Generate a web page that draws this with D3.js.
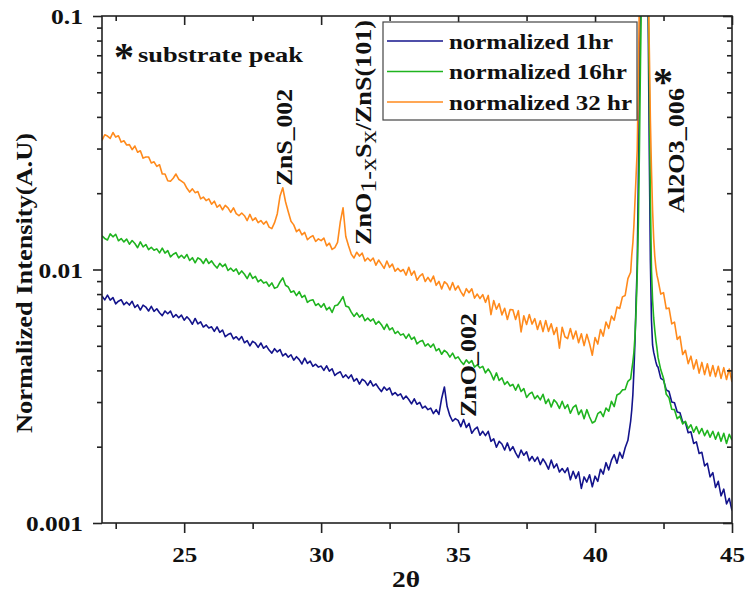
<!DOCTYPE html>
<html>
<head>
<meta charset="utf-8">
<script src="https://cdn.jsdelivr.net/npm/d3@7"></script>
<style>
  html, body { margin: 0; padding: 0; background: #fff; }
  svg { display: block; }
</style>
</head>
<body>
<svg id="chart" width="746" height="592"></svg>
<script>
// ---- data -------------------------------------------------------------
// 2θ scan grid: 0.1° steps, with 0.04° steps across the sapphire (006) reflection
const theta = [
  ...d3.range(0, 194).map(i => +(22 + i * 0.1).toFixed(2)),
  ...d3.range(0, 24).map(i => +(41.34 + i * 0.04).toFixed(2)),
  ...d3.range(0, 28).map(i => +(42.3 + i * 0.1).toFixed(2))
];

const intensity1hr = [
  0.00787, 0.00759, 0.00792, 0.00757, 0.00775, 0.00732, 0.00750, 0.00760, 0.00726, 0.00743,
  0.00724, 0.00749, 0.00708, 0.00725, 0.00692, 0.00723, 0.00711, 0.00686, 0.00716, 0.00684,
  0.00700, 0.00675, 0.00658, 0.00686, 0.00669, 0.00685, 0.00648, 0.00664, 0.00645, 0.00661,
  0.00631, 0.00651, 0.00633, 0.00608, 0.00641, 0.00610, 0.00622, 0.00593, 0.00605, 0.00588,
  0.00594, 0.00570, 0.00594, 0.00565, 0.00577, 0.00543, 0.00554, 0.00560, 0.00532, 0.00543,
  0.00527, 0.00544, 0.00514, 0.00524, 0.00500, 0.00521, 0.00512, 0.00493, 0.00513, 0.00489,
  0.00500, 0.00481, 0.00468, 0.00487, 0.00473, 0.00483, 0.00456, 0.00466, 0.00451, 0.00461,
  0.00439, 0.00453, 0.00441, 0.00424, 0.00447, 0.00426, 0.00435, 0.00415, 0.00423, 0.00412,
  0.00416, 0.00400, 0.00417, 0.00397, 0.00406, 0.00382, 0.00390, 0.00395, 0.00375, 0.00384,
  0.00372, 0.00384, 0.00363, 0.00371, 0.00353, 0.00369, 0.00363, 0.00349, 0.00364, 0.00347,
  0.00354, 0.00341, 0.00330, 0.00344, 0.00334, 0.00341, 0.00320, 0.00327, 0.00318, 0.00323,
  0.00308, 0.00317, 0.00307, 0.00295, 0.00309, 0.00294, 0.00299, 0.00284, 0.00289, 0.00280,
  0.00284, 0.00270, 0.00280, 0.00268, 0.00310, 0.00344, 0.00288, 0.00265, 0.00252, 0.00258,
  0.00254, 0.00240, 0.00256, 0.00238, 0.00247, 0.00226, 0.00234, 0.00239, 0.00222, 0.00230,
  0.00221, 0.00230, 0.00210, 0.00215, 0.00199, 0.00210, 0.00205, 0.00194, 0.00207, 0.00193,
  0.00200, 0.00189, 0.00181, 0.00194, 0.00185, 0.00191, 0.00176, 0.00183, 0.00175, 0.00182,
  0.00170, 0.00179, 0.00172, 0.00163, 0.00177, 0.00165, 0.00171, 0.00159, 0.00164, 0.00158,
  0.00165, 0.00148, 0.00160, 0.00150, 0.00159, 0.00137, 0.00152, 0.00145, 0.00155, 0.00139,
  0.00153, 0.00146, 0.00163, 0.00156, 0.00173, 0.00162, 0.00177, 0.00186, 0.00172, 0.00190,
  0.00180, 0.00198, 0.00212, 0.00252,
  0.00279, 0.00320, 0.00401, 0.00527, 0.00758, 0.0104, 0.0225, 0.056, 0.14, 0.30, 0.60, 0.90,
  0.85, 0.50, 0.22, 0.095, 0.0296, 0.0109, 0.00632, 0.00504, 0.00472, 0.00452, 0.00432, 0.00417,
  0.00412, 0.00372, 0.00366, 0.00335, 0.00330, 0.00300, 0.00298, 0.00274, 0.00272, 0.00250,
  0.00249, 0.00227, 0.00229, 0.00206, 0.00209, 0.00188, 0.00190, 0.00168, 0.00172, 0.00152,
  0.00158, 0.00138, 0.00146, 0.00128, 0.00136, 0.00119, 0.00125, 0.00112
];

const intensity16hr = [
  0.01358, 0.01326, 0.01307, 0.01382, 0.01346, 0.01377, 0.01298, 0.01324, 0.01285, 0.01317,
  0.01258, 0.01301, 0.01266, 0.01219, 0.01285, 0.01227, 0.01255, 0.01197, 0.01224, 0.01191,
  0.01206, 0.01163, 0.01214, 0.01160, 0.01187, 0.01122, 0.01149, 0.01165, 0.01111, 0.01138,
  0.01108, 0.01146, 0.01085, 0.01113, 0.01063, 0.01112, 0.01095, 0.01056, 0.01104, 0.01056,
  0.01082, 0.01042, 0.01013, 0.01057, 0.01027, 0.01050, 0.00991, 0.01012, 0.00984, 0.01005,
  0.00957, 0.00987, 0.00958, 0.00921, 0.00968, 0.00922, 0.00939, 0.00894, 0.00912, 0.00884,
  0.00893, 0.00858, 0.00885, 0.00843, 0.00852, 0.00893, 0.00927, 0.00867, 0.00853, 0.00813,
  0.00823, 0.00789, 0.00818, 0.00776, 0.00791, 0.00742, 0.00755, 0.00760, 0.00721, 0.00733,
  0.00710, 0.00733, 0.00693, 0.00710, 0.00677, 0.00719, 0.00724, 0.00750, 0.00781, 0.00717,
  0.00712, 0.00679, 0.00653, 0.00674, 0.00649, 0.00664, 0.00628, 0.00643, 0.00626, 0.00639,
  0.00608, 0.00625, 0.00606, 0.00580, 0.00609, 0.00578, 0.00589, 0.00559, 0.00570, 0.00551,
  0.00557, 0.00535, 0.00556, 0.00530, 0.00541, 0.00509, 0.00520, 0.00525, 0.00499, 0.00509,
  0.00494, 0.00508, 0.00478, 0.00487, 0.00463, 0.00480, 0.00470, 0.00451, 0.00468, 0.00445,
  0.00452, 0.00435, 0.00422, 0.00440, 0.00427, 0.00437, 0.00412, 0.00421, 0.00409, 0.00415,
  0.00391, 0.00405, 0.00389, 0.00367, 0.00391, 0.00365, 0.00374, 0.00352, 0.00361, 0.00347,
  0.00352, 0.00334, 0.00352, 0.00330, 0.00339, 0.00313, 0.00323, 0.00328, 0.00309, 0.00318,
  0.00306, 0.00322, 0.00296, 0.00308, 0.00287, 0.00306, 0.00298, 0.00283, 0.00302, 0.00283,
  0.00293, 0.00271, 0.00286, 0.00292, 0.00268, 0.00279, 0.00258, 0.00280, 0.00262, 0.00248,
  0.00252, 0.00270, 0.00275, 0.00263, 0.00284, 0.00276, 0.00302, 0.00288, 0.00320, 0.00324,
  0.00335, 0.00336, 0.00362, 0.00370,
  0.00401, 0.00431, 0.00472, 0.00550, 0.00692, 0.00952, 0.0150, 0.0296, 0.0670, 0.13, 0.30, 0.60,
  0.80, 0.55, 0.25, 0.12, 0.0559, 0.0188, 0.00995, 0.00758, 0.00644, 0.00577, 0.00527, 0.00490,
  0.00450, 0.00402, 0.00372, 0.00322, 0.00312, 0.00281, 0.00280, 0.00258, 0.00264, 0.00246,
  0.00252, 0.00236, 0.00244, 0.00228, 0.00240, 0.00225, 0.00236, 0.00221, 0.00232, 0.00218,
  0.00230, 0.00214, 0.00228, 0.00210, 0.00226, 0.00206, 0.00224, 0.00212
];

const intensity32hr = [
  0.0323, 0.0340, 0.0336, 0.0329, 0.0347, 0.0333, 0.0337, 0.0318, 0.0322, 0.0310,
  0.0311, 0.0297, 0.0307, 0.0290, 0.0294, 0.0275, 0.0278, 0.0278, 0.0263, 0.0266,
  0.0255, 0.0259, 0.0238, 0.0238, 0.0224, 0.0223, 0.0229, 0.0238, 0.0227, 0.0223,
  0.0219, 0.0209, 0.0202, 0.0208, 0.0201, 0.0203, 0.0190, 0.0193, 0.0187, 0.0190,
  0.0181, 0.0186, 0.0176, 0.0180, 0.0172, 0.0179, 0.0175, 0.0168, 0.0175, 0.0166,
  0.0163, 0.0167, 0.0163, 0.0156, 0.0165, 0.0156, 0.0160, 0.0153, 0.0156, 0.0151,
  0.0155, 0.0147, 0.0145, 0.0153, 0.0166, 0.0195, 0.0210, 0.0185, 0.0169, 0.0155,
  0.0150, 0.0141, 0.0144, 0.0137, 0.0140, 0.0131, 0.0134, 0.0136, 0.0129, 0.0132,
  0.0130, 0.0133, 0.0124, 0.0127, 0.0120, 0.0122, 0.0128, 0.0154, 0.0175, 0.0135,
  0.0124, 0.0115, 0.0111, 0.0117, 0.0113, 0.0116, 0.0108, 0.0111, 0.0108, 0.0111,
  0.0104, 0.0109, 0.0105, 0.0101, 0.0108, 0.0102, 0.0105, 0.00984, 0.0101, 0.00982,
  0.0100, 0.00950, 0.0102, 0.00950, 0.00986, 0.00907, 0.00942, 0.00962, 0.00897, 0.00931,
  0.00895, 0.00942, 0.00866, 0.00898, 0.00838, 0.00895, 0.00876, 0.00830, 0.00888, 0.00830,
  0.00862, 0.00818, 0.00786, 0.00840, 0.00810, 0.00839, 0.00771, 0.00800, 0.00768, 0.00796,
  0.00742, 0.00790, 0.00664, 0.00754, 0.00697, 0.00733, 0.00662, 0.00703, 0.00635, 0.00695,
  0.00694, 0.00635, 0.00688, 0.00567, 0.00657, 0.00607, 0.00664, 0.00609, 0.00640, 0.00580,
  0.00628, 0.00569, 0.00629, 0.00570, 0.00611, 0.00554, 0.00590, 0.00489, 0.00592, 0.00543,
  0.00534, 0.00585, 0.00532, 0.00572, 0.00514, 0.00558, 0.00501, 0.00555, 0.00510, 0.00459,
  0.00539, 0.00508, 0.00580, 0.00546, 0.00621, 0.00586, 0.00655, 0.00631, 0.00711, 0.00702,
  0.00780, 0.00790, 0.00920, 0.00975,
  0.0114, 0.0127, 0.0150, 0.0188, 0.0236, 0.0296, 0.056, 0.12, 0.25, 0.5, 0.9, 1.0,
  0.95, 0.6, 0.3, 0.14, 0.075, 0.0389, 0.0247, 0.0172, 0.0133, 0.0113, 0.0102, 0.00950,
  0.00910, 0.00800, 0.00810, 0.00700, 0.00705, 0.00610, 0.00620, 0.00530, 0.00545, 0.00462,
  0.00480, 0.00425, 0.00455, 0.00405, 0.00440, 0.00390, 0.00430, 0.00385, 0.00425, 0.00380,
  0.00418, 0.00378, 0.00415, 0.00372, 0.00410, 0.00368, 0.00405, 0.00360
];

const seriesNames = ["normalized 1hr", "normalized 16hr", "normalized 32 hr"];
const seriesColors = ["#14148c", "#1fb41f", "#ff8a1c"];

const xDomain = [22, 45];
const yDomain = [0.001, 0.1];
const xTicks = [25, 30, 35, 40, 45];
const xMinorTicks = [22.5, 27.5, 32.5, 37.5, 42.5];
const yTicks = [0.001, 0.01, 0.1];
const yTickLabels = ["0.001", "0.01", "0.1"];
const yMinorTicks = [2, 3, 4, 5, 6, 7, 8, 9].flatMap(m => [m * 0.001, m * 0.01]);

// ---- layout -----------------------------------------------------------
const FONT = '"Liberation Serif", Tinos, "Times New Roman", Times, "Nimbus Roman", FreeSerif, "DejaVu Serif", serif';
const plot = { left: 102, right: 732, top: 16, bottom: 523 };
const AXIS = "#222";

// printed width of a numeric tick label (digits and the decimal point)
const numWidth = s => [...s].reduce((w, c) => w + (c === "." ? 7 : 12.5), 0);

const svg = d3.select("#chart");
const x = d3.scaleLinear().domain(xDomain).range([plot.left, plot.right]);
const y = d3.scaleLog().domain(yDomain).range([plot.bottom, plot.top]);

svg.append("defs").append("clipPath").attr("id", "plot-clip")
  .append("rect")
  .attr("x", plot.left).attr("y", plot.top)
  .attr("width", plot.right - plot.left).attr("height", plot.bottom - plot.top);

// ---- curves -----------------------------------------------------------
const series = [intensity1hr, intensity16hr, intensity32hr].map((vals, k) => ({
  name: seriesNames[k], color: seriesColors[k],
  points: vals.map((v, i) => [theta[i], v])
}));

const line = d3.line().x(d => x(d[0])).y(d => y(d[1]));
const curves = svg.append("g").attr("clip-path", "url(#plot-clip)");
series.forEach(s => {
  curves.append("path")
    .datum(s.points)
    .attr("fill", "none")
    .attr("stroke", s.color)
    .attr("stroke-width", 1.6)
    .attr("stroke-linejoin", "round")
    .attr("d", line);
});

// ---- axes -------------------------------------------------------------
function tidy(g) {
  g.select(".domain").remove();
  g.selectAll(".tick line").attr("stroke", AXIS).attr("stroke-width", 1.6);
  g.attr("font-family", FONT).attr("font-size", 21).attr("font-weight", "bold");
  g.selectAll("text").attr("fill", "#111")
    .attr("lengthAdjust", "spacingAndGlyphs")
    .attr("textLength", function () { return numWidth(this.textContent); });
}

// bottom: outward ticks with labels
svg.append("g").attr("transform", `translate(0,${plot.bottom})`)
  .call(d3.axisBottom(x).tickValues(xTicks).tickSize(10).tickFormat(d3.format("d")))
  .call(tidy)
  .call(g => g.selectAll("text").attr("y", 39).attr("dy", null));
svg.append("g").attr("transform", `translate(0,${plot.bottom})`)
  .call(d3.axisBottom(x).tickValues(xMinorTicks).tickSize(6).tickFormat(""))
  .call(tidy);

// top: inward ticks, no labels
svg.append("g").attr("transform", `translate(0,${plot.top})`)
  .call(d3.axisBottom(x).tickValues(xTicks).tickSize(9).tickFormat(""))
  .call(tidy);
svg.append("g").attr("transform", `translate(0,${plot.top})`)
  .call(d3.axisBottom(x).tickValues(xMinorTicks).tickSize(5).tickFormat(""))
  .call(tidy);

// left: outward ticks with decade labels
svg.append("g").attr("transform", `translate(${plot.left},0)`)
  .call(d3.axisLeft(y).tickValues(yTicks).tickSize(9).tickFormat((d, i) => yTickLabels[i]))
  .call(tidy)
  .call(g => g.selectAll("text").attr("x", -19).attr("dy", "0.36em"));
svg.append("g").attr("transform", `translate(${plot.left},0)`)
  .call(d3.axisLeft(y).tickValues(yMinorTicks).tickSize(5).tickFormat(""))
  .call(tidy);

// right: inward ticks, no labels
svg.append("g").attr("transform", `translate(${plot.right},0)`)
  .call(d3.axisLeft(y).tickValues(yTicks).tickSize(9).tickFormat(""))
  .call(tidy);
svg.append("g").attr("transform", `translate(${plot.right},0)`)
  .call(d3.axisLeft(y).tickValues(yMinorTicks).tickSize(5).tickFormat(""))
  .call(tidy);

// frame
svg.append("rect")
  .attr("x", plot.left).attr("y", plot.top)
  .attr("width", plot.right - plot.left).attr("height", plot.bottom - plot.top)
  .attr("fill", "none").attr("stroke", AXIS).attr("stroke-width", 1.6);

// ---- text helpers -----------------------------------------------------
function label(px, py, { size = 21, anchor = "start", rotate = 0, fit = null } = {}) {
  const t = svg.append("text")
    .attr("transform", `translate(${px},${py})` + (rotate ? ` rotate(${rotate})` : ""))
    .attr("font-family", FONT)
    .attr("font-weight", "bold")
    .attr("font-size", size)
    .attr("text-anchor", anchor)
    .attr("fill", "#111");
  if (fit) t.attr("textLength", fit).attr("lengthAdjust", "spacingAndGlyphs");
  return t;
}

// axis titles
label(32, 283, { size: 24, anchor: "middle", rotate: -90, fit: 300 }).text("Normalized Intensity(A.U)");
label(406, 587, { size: 23, anchor: "middle", fit: 28 }).text("2θ");

// peak annotations
label(124, 70, { size: 40, anchor: "middle" }).text("*");
label(138, 62, { size: 22, fit: 165 }).text("substrate peak");

label(292, 186, { size: 24, rotate: -90, fit: 97 }).text("ZnS_002");

const mixed = label(371, 245, { size: 24, rotate: -90, fit: 225 });
mixed.append("tspan").text("ZnO");
mixed.append("tspan").attr("dy", 5).attr("font-weight", "normal").text("1-x");
mixed.append("tspan").attr("dy", -5).text("S");
mixed.append("tspan").attr("dy", 5).attr("font-weight", "normal").text("x");
mixed.append("tspan").attr("dy", -5).text("/ZnS(101)");

label(476, 417, { size: 24, rotate: -90, fit: 104 }).text("ZnO_002");
label(684, 213, { size: 24, rotate: -90, fit: 125 }).text("Al2O3_006");
label(663, 95, { size: 40, anchor: "middle" }).text("*");

// ---- legend -----------------------------------------------------------
const legend = { x: 383, y: 22, w: 254, h: 98, row: 30.5, first: 41 };
const legendTextWidths = [164, 178, 183];
svg.append("rect")
  .attr("x", legend.x).attr("y", legend.y)
  .attr("width", legend.w).attr("height", legend.h)
  .attr("fill", "#fff").attr("stroke", "#444").attr("stroke-width", 1.2);

series.forEach((s, k) => {
  const ly = legend.first + k * legend.row;
  svg.append("line")
    .attr("x1", legend.x + 4).attr("x2", legend.x + 60)
    .attr("y1", ly).attr("y2", ly)
    .attr("stroke", s.color).attr("stroke-width", 1.5);
  label(legend.x + 66, ly + 7.5, { size: 21, fit: legendTextWidths[k] }).text(s.name);
});
</script>
</body>
</html>
